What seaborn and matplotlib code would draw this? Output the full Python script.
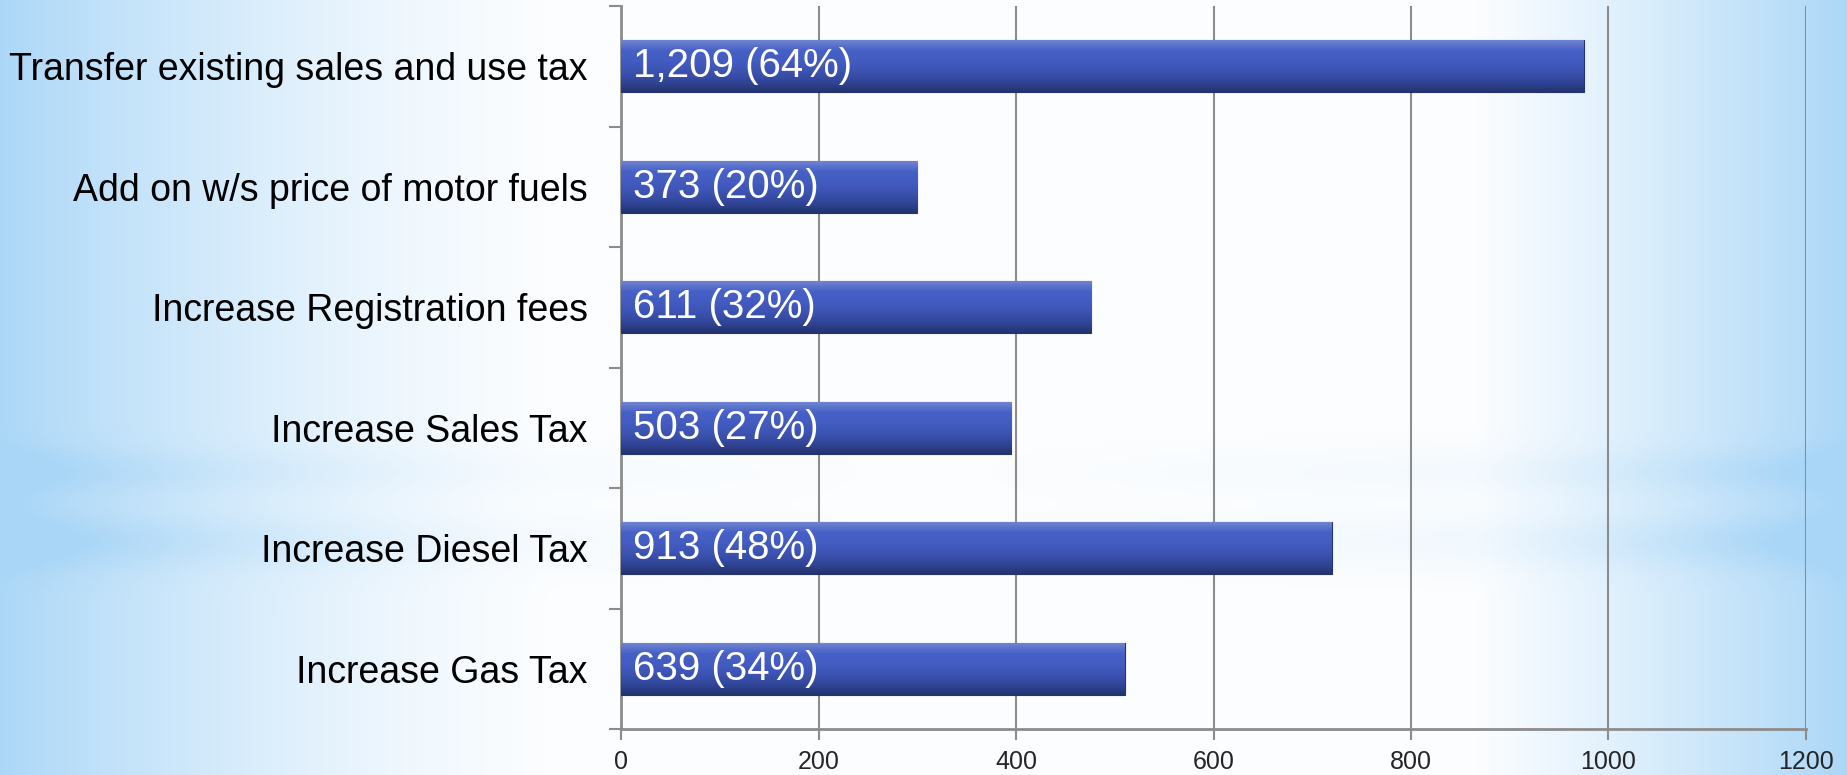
import matplotlib
matplotlib.use("Agg")
import matplotlib.pyplot as plt
from matplotlib import font_manager
from matplotlib.colors import LinearSegmentedColormap
import seaborn as sns
import pandas as pd
import numpy as np

# Chart data (bar lengths; labels as printed on the bars)
categories = [
    "Transfer existing sales and use tax",
    "Add on w/s price of motor fuels",
    "Increase Registration fees",
    "Increase Sales Tax",
    "Increase Diesel Tax",
    "Increase Gas Tax",
]
bar_values = [975, 300, 476, 395, 720, 510]
bar_labels = ["1,209 (64%)", "373 (20%)", "611 (32%)", "503 (27%)", "913 (48%)", "639 (34%)"]
x_ticks = [0, 200, 400, 600, 800, 1000, 1200]

df = pd.DataFrame({"category": categories, "value": bar_values, "label": bar_labels})

sns.set_theme(style="white")
names = {f.name for f in font_manager.fontManager.ttflist}
narrow = "Liberation Sans Narrow" if "Liberation Sans Narrow" in names else "Liberation Sans"
plt.rcParams["font.family"] = ["Liberation Sans", "DejaVu Sans"]

W, H = 1847, 775
fig = plt.figure(figsize=(W / 100, H / 100), dpi=100)

# background: light blue at the edges, white in the middle, faint horizontal streaks
bg = fig.add_axes([0, 0, 1, 1], zorder=-10)
xs = np.linspace(0, 1, 400)
ys = np.linspace(0, 1, 200)
xx, yy = np.meshgrid(xs, ys)
left = np.clip(1 - xx / 0.3, 0, 1) ** 1.4
right = np.clip((xx - 0.8) / 0.2, 0, 1) ** 1.1
band = 0.35 * np.exp(-((yy - 0.61) / 0.03) ** 2) + 0.45 * np.exp(-((yy - 0.70) / 0.035) ** 2)
band = band * np.clip(np.abs(xx - 0.5) / 0.5, 0, 1) ** 1.5
strength = np.clip(np.maximum(left, right) * 0.95 + band * 0.6, 0, 1)
bg_cmap = LinearSegmentedColormap.from_list("bg", ["#fbfdff", "#a9d6f7"])
bg.imshow(strength, cmap=bg_cmap, aspect="auto", extent=[0, 1, 1, 0], vmin=0, vmax=1)
bg.axis("off")

ax = fig.add_axes([621 / W, 1 - 729 / H, (1806 - 621) / W, (729 - 6) / H])
ax.patch.set_alpha(0)

sns.barplot(data=df, y="category", x="value", orient="h", color="#3a50b0",
            width=0.43, saturation=1, ax=ax, zorder=3)

# glossy vertical gradient on each bar
bar_cmap = LinearSegmentedColormap.from_list(
    "bar", ["#6f84d0", "#4560c6", "#435cc2", "#3c53b2", "#31469a", "#24346f"])
grad = np.linspace(0, 1, 64).reshape(-1, 1)
for p in ax.patches:
    x0, y0 = p.get_x(), p.get_y()
    w, h = p.get_width(), p.get_height()
    im = ax.imshow(grad, cmap=bar_cmap, aspect="auto",
                   extent=[x0, x0 + w, y0 + h, y0], zorder=4)
    im.set_clip_path(p)
    p.set_edgecolor("#23336f")
    p.set_linewidth(0.8)

for p, lab in zip(ax.patches, df["label"]):
    ax.annotate(lab, xy=(0, p.get_y() + p.get_height() / 2), xytext=(12, 0),
                textcoords="offset pixels", va="center", ha="left",
                color="white", fontsize=29, family=narrow, zorder=6)

ax.set_xlim(0, 1200)
ax.set_ylim(len(categories) - 0.5, -0.5)
ax.set_xticks(x_ticks)
ax.set_xticklabels([str(t) for t in x_ticks], fontsize=18, family=narrow)
ax.set_xlabel("")
ax.set_ylabel("")

# category labels between boundary ticks
ax.set_yticks(np.arange(-0.5, len(categories), 1.0))
ax.set_yticklabels([])
ax.set_yticks(np.arange(len(categories)), minor=True)
ax.set_yticklabels(categories, minor=True, fontsize=27, color="black")
ax.tick_params(axis="y", which="minor", length=0, pad=24)
ax.tick_params(axis="y", which="major", length=9, width=1.5, color="#8c8c8c", left=True)
ax.tick_params(axis="x", length=8, width=1.5, color="#8c8c8c", bottom=True, pad=7)

ax.grid(axis="x", color="#8c8c8c", linewidth=1.5, zorder=0)
ax.set_axisbelow(True)
for s in ["top", "right"]:
    ax.spines[s].set_visible(False)
for s in ["left", "bottom"]:
    ax.spines[s].set_color("#8c8c8c")
    ax.spines[s].set_linewidth(2)

fig.savefig("out.png", dpi=100)
